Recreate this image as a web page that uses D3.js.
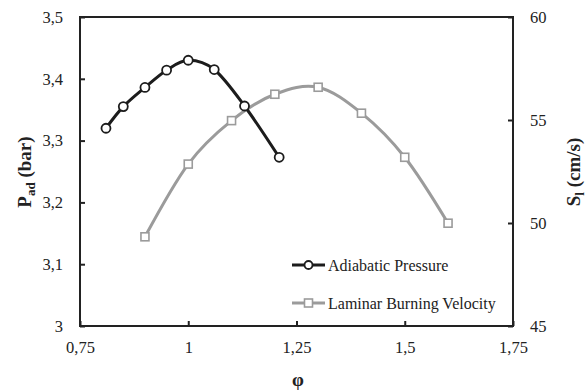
<!DOCTYPE html>
<html>
<head>
<meta charset="utf-8">
<script src="https://cdn.jsdelivr.net/npm/d3@7"></script>
<style>
  body { margin: 0; background: #fff; }
  svg text { font-family: "Liberation Serif", "Times New Roman", "DejaVu Serif", serif; }
</style>
</head>
<body>
<svg id="chart" width="587" height="390"></svg>
<script>
// equivalence ratio and values
const phiPressure = [0.81, 0.85, 0.9, 0.95, 1.0, 1.06, 1.13, 1.21]
const pressure = [3.320, 3.355, 3.386, 3.414, 3.430, 3.415, 3.356, 3.273]
const phiVelocity = [0.9, 1.0, 1.1, 1.2, 1.3, 1.4, 1.5, 1.6]
const velocity = [49.33, 52.86, 54.97, 56.25, 56.59, 55.33, 53.19, 49.99]

const xTicks = [0.75, 1, 1.25, 1.5, 1.75]
const yLeftTicks = [3, 3.1, 3.2, 3.3, 3.4, 3.5]
const yRightTicks = [45, 50, 55, 60]
const seriesNames = ['Adiabatic Pressure', 'Laminar Burning Velocity']

const m = { left: 80, right: 513, top: 17, bottom: 326 }
const svg = d3.select('#chart')
const fmt = d => String(d).replace('.', ',')

const x = d3.scaleLinear().domain([0.75, 1.75]).range([m.left, m.right])
const yL = d3.scaleLinear().domain([3, 3.5]).range([m.bottom, m.top])
const yR = d3.scaleLinear().domain([45, 60]).range([m.bottom, m.top])

const axisColor = '#222'
const black = '#1c1c1c'
const gray = '#9b9b9b'

// axes, ticks pointing inward
const xAxis = svg.append('g').attr('transform', `translate(0,${m.bottom})`)
  .call(d3.axisBottom(x).tickValues(xTicks).tickFormat(fmt).tickSize(-5).tickPadding(15))
const leftAxis = svg.append('g').attr('transform', `translate(${m.left},0)`)
  .call(d3.axisLeft(yL).tickValues(yLeftTicks).tickFormat(fmt).tickSize(-5).tickPadding(17))
const rightAxis = svg.append('g').attr('transform', `translate(${m.right},0)`)
  .call(d3.axisRight(yR).tickValues(yRightTicks).tickSize(-5).tickPadding(17))

;[xAxis, leftAxis, rightAxis].forEach(g => {
  g.attr('font-family', null)
  g.select('.domain').remove()
  g.selectAll('line').attr('stroke', axisColor).attr('stroke-width', 2)
  g.selectAll('text').attr('font-size', 16.5).attr('fill', '#222')
})

// frame
svg.append('rect')
  .attr('x', m.left).attr('y', m.top)
  .attr('width', m.right - m.left).attr('height', m.bottom - m.top)
  .attr('fill', 'none').attr('stroke', axisColor).attr('stroke-width', 2)

const curve = d3.curveCardinal.tension(0)

// laminar burning velocity
const velData = phiVelocity.map((p, i) => [p, velocity[i]])
svg.append('path')
  .attr('d', d3.line().x(d => x(d[0])).y(d => yR(d[1])).curve(curve)(velData))
  .attr('fill', 'none').attr('stroke', gray).attr('stroke-width', 3)

// adiabatic pressure
const presData = phiPressure.map((p, i) => [p, pressure[i]])
svg.append('path')
  .attr('d', d3.line().x(d => x(d[0])).y(d => yL(d[1])).curve(curve)(presData))
  .attr('fill', 'none').attr('stroke', black).attr('stroke-width', 3)

svg.append('g').selectAll('rect').data(velData).join('rect')
  .attr('x', d => x(d[0]) - 4).attr('y', d => yR(d[1]) - 4)
  .attr('width', 8).attr('height', 8)
  .attr('fill', '#fff').attr('stroke', gray).attr('stroke-width', 1.6)

svg.append('g').selectAll('circle').data(presData).join('circle')
  .attr('cx', d => x(d[0])).attr('cy', d => yL(d[1])).attr('r', 4.5)
  .attr('fill', '#fff').attr('stroke', black).attr('stroke-width', 1.8)

// legend
const legend = [
  { name: seriesNames[0], color: black, y: 265, mark: 'circle' },
  { name: seriesNames[1], color: gray, y: 303, mark: 'square' }
]
legend.forEach(l => {
  svg.append('line').attr('x1', 292).attr('x2', 325).attr('y1', l.y).attr('y2', l.y)
    .attr('stroke', l.color).attr('stroke-width', 3)
  if (l.mark === 'circle') {
    svg.append('circle').attr('cx', 308.5).attr('cy', l.y).attr('r', 4)
      .attr('fill', '#fff').attr('stroke', l.color).attr('stroke-width', 1.8)
  } else {
    svg.append('rect').attr('x', 304.5).attr('y', l.y - 4).attr('width', 8).attr('height', 8)
      .attr('fill', '#fff').attr('stroke', l.color).attr('stroke-width', 1.6)
  }
  svg.append('text').attr('x', 328).attr('y', l.y + 5.5).attr('font-size', 16)
    .attr('fill', '#222').text(l.name)
})

// axis titles
const leftTitle = svg.append('text')
  .attr('transform', `translate(31,172) rotate(-90)`)
  .attr('text-anchor', 'middle').attr('font-size', 19).attr('font-weight', 'bold').attr('fill', '#222')
leftTitle.append('tspan').text('P')
leftTitle.append('tspan').attr('font-size', 13).attr('dy', 4).text('ad')
leftTitle.append('tspan').attr('dy', -4).text(' (bar)')

const rightTitle = svg.append('text')
  .attr('transform', `translate(580,172) rotate(-90)`)
  .attr('text-anchor', 'middle').attr('font-size', 19).attr('font-weight', 'bold').attr('fill', '#222')
rightTitle.append('tspan').text('S')
rightTitle.append('tspan').attr('font-size', 13).attr('dy', 4).text('l')
rightTitle.append('tspan').attr('dy', -4).text(' (cm/s)')

svg.append('text').attr('x', 298).attr('y', 386).attr('text-anchor', 'middle')
  .attr('font-size', 19).attr('font-weight', 'bold').attr('fill', '#222').text('φ')
</script>
</body>
</html>
